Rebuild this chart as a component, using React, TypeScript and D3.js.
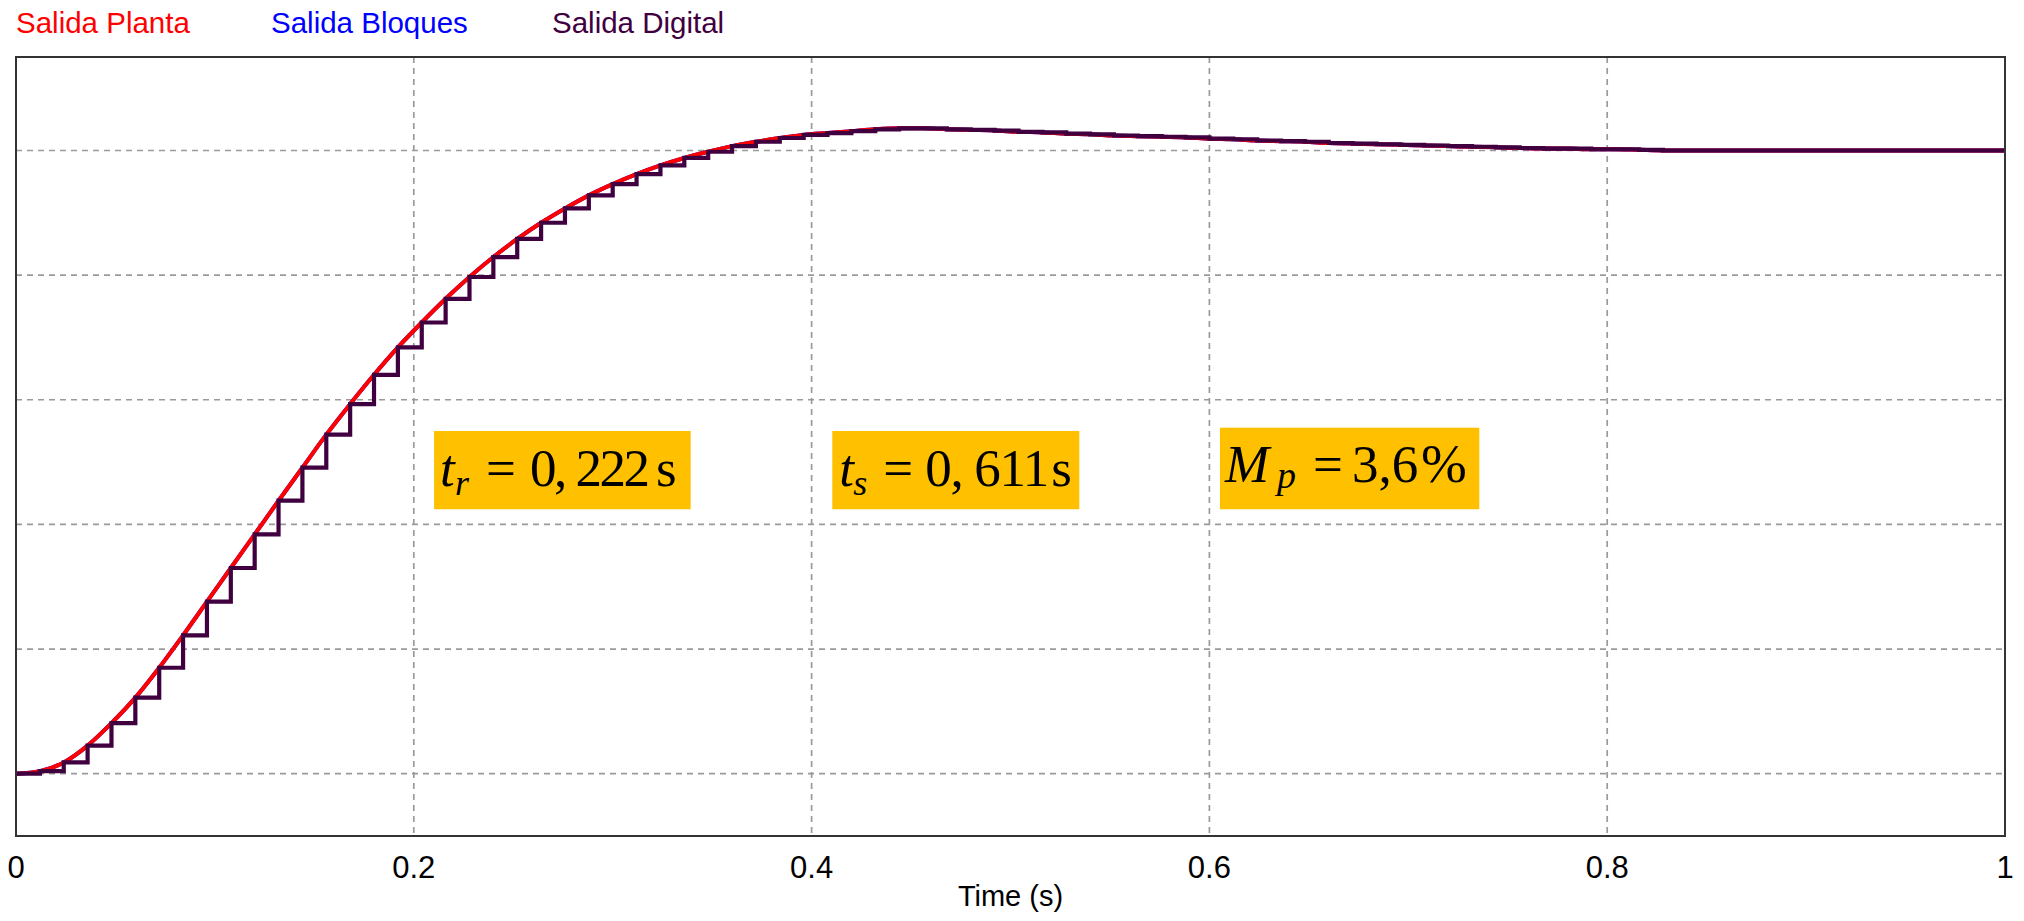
import React from 'react';
import * as d3 from 'd3';

// ---- data ----
const SAMPLE_PERIOD = 0.012; // s, digital sampling period
// Plant output at each sampling instant k*T (k = 0..83)
const plantOutput = [
  0.000, 0.004, 0.018, 0.045, 0.081, 0.122, 0.170, 0.222, 0.276, 0.330,
  0.384, 0.438, 0.491, 0.544, 0.593, 0.640, 0.684, 0.724, 0.762, 0.797,
  0.829, 0.858, 0.884, 0.907, 0.928, 0.946, 0.962, 0.976, 0.988, 0.998,
  1.007, 1.014, 1.020, 1.025, 1.028, 1.031, 1.034, 1.0355, 1.0355, 1.034,
  1.033, 1.032, 1.030, 1.029, 1.027, 1.026, 1.024, 1.023, 1.022, 1.021,
  1.019, 1.018, 1.016, 1.015, 1.014, 1.012, 1.011, 1.010, 1.009, 1.008,
  1.007, 1.006, 1.005, 1.004, 1.003, 1.003, 1.002, 1.002, 1.001, 1.000,
  1.000, 1.000, 1.000, 1.000, 1.000, 1.000, 1.000, 1.000, 1.000, 1.000,
  1.000, 1.000, 1.000, 1.000,
];
// Block-diagram output coincides with the plant output
const blockOutput = plantOutput;
// Digital (sampled, zero-order hold) output
const digitalOutput = plantOutput;

const xTicks = [0, 0.2, 0.4, 0.6, 0.8, 1];
const xTickLabels = ['0', '0.2', '0.4', '0.6', '0.8', '1'];
const yGrid = [0, 0.2, 0.4, 0.6, 0.8, 1.0];
const legendLabels = ['Salida Planta', 'Salida Bloques', 'Salida Digital'];
const xLabel = 'Time (s)';

// ---- layout ----
const W = 2024;
const H = 921;
const PLOT = { left: 16, right: 2005, top: 57, bottom: 836 };
const COLORS = { planta: '#ff0000', bloques: '#0000ff', digital: '#400040' };
const SANS = "'Liberation Sans', Arial, sans-serif";
const SERIF = "'Liberation Serif', 'Times New Roman', serif";

export default function App() {
  const x = d3.scaleLinear().domain([0, 1]).range([PLOT.left, PLOT.right]);
  const y = d3.scaleLinear().domain([-0.1, 1.15]).range([PLOT.bottom, PLOT.top]);

  const pts = (vals: number[]) => {
    const p: [number, number][] = vals.map((v, k) => [k * SAMPLE_PERIOD, v]);
    p.push([1, vals[vals.length - 1]]);
    return p;
  };

  const smooth = d3
    .line<[number, number]>()
    .x((d) => x(d[0]))
    .y((d) => y(d[1]))
    .curve(d3.curveMonotoneX);
  const steps = d3
    .line<[number, number]>()
    .x((d) => x(d[0]))
    .y((d) => y(d[1]))
    .curve(d3.curveStepAfter);

  const legendX = [16, 271, 552];
  const legendColors = [COLORS.planta, COLORS.bloques, COLORS.digital];

  // annotation boxes in data coordinates
  const boxes = [
    { t0: 0.2102, t1: 0.3392, v0: 0.5499, v1: 0.4243 },
    { t0: 0.4104, t1: 0.5346, v0: 0.5499, v1: 0.4243 },
    { t0: 0.6053, t1: 0.7357, v0: 0.5552, v1: 0.4243 },
  ];
  const bx = (i: number) => x(boxes[i].t0);

  return (
    <svg
      width={W}
      height={H}
      style={{ position: 'absolute', left: 0, top: 0, background: '#fff' }}
    >
      <rect x={0} y={0} width={W} height={H} fill="#fff" />
      {/* legend */}
      {legendLabels.map((l, i) => (
        <text
          key={l}
          x={legendX[i]}
          y={33}
          fontFamily={SANS}
          fontSize={29.5}
          fill={legendColors[i]}
        >
          {l}
        </text>
      ))}

      {/* grid */}
      {yGrid.map((v) => (
        <line
          key={'gy' + v}
          x1={PLOT.left}
          x2={PLOT.right}
          y1={y(v)}
          y2={y(v)}
          stroke="#9a9a9a"
          strokeWidth={1.7}
          strokeDasharray="6,5"
        />
      ))}
      {xTicks.slice(1, -1).map((t) => (
        <line
          key={'gx' + t}
          x1={x(t)}
          x2={x(t)}
          y1={PLOT.top}
          y2={PLOT.bottom}
          stroke="#9a9a9a"
          strokeWidth={1.7}
          strokeDasharray="6,5"
        />
      ))}

      {/* series */}
      <path d={smooth(pts(blockOutput)) || ''} fill="none" stroke={COLORS.bloques} strokeWidth={4} />
      <path d={smooth(pts(plantOutput)) || ''} fill="none" stroke={COLORS.planta} strokeWidth={4} />
      <path
        d={steps(pts(digitalOutput)) || ''}
        fill="none"
        stroke={COLORS.digital}
        strokeWidth={4.2}
        strokeLinejoin="miter"
      />

      {/* frame */}
      <rect
        x={PLOT.left}
        y={PLOT.top}
        width={PLOT.right - PLOT.left}
        height={PLOT.bottom - PLOT.top}
        fill="none"
        stroke="#333"
        strokeWidth={2}
      />

      {/* x tick labels */}
      {xTicks.map((t, i) => (
        <text
          key={'xt' + t}
          x={x(t)}
          y={878}
          textAnchor="middle"
          fontFamily={SANS}
          fontSize={31}
          fill="#000"
        >
          {xTickLabels[i]}
        </text>
      ))}
      <text
        x={(PLOT.left + PLOT.right) / 2}
        y={906}
        textAnchor="middle"
        fontFamily={SANS}
        fontSize={29}
        fill="#000"
      >
        {xLabel}
      </text>

      {/* annotation boxes */}
      {boxes.map((b, i) => (
        <rect
          key={'box' + i}
          x={x(b.t0)}
          y={y(b.v0)}
          width={x(b.t1) - x(b.t0)}
          height={y(b.v1) - y(b.v0)}
          fill="#ffc000"
        />
      ))}

      {/* t_r = 0,222 s ; t_s = 0,611 s ; M_p = 3,6 % */}
      <g fontFamily={SERIF} fill="#000">
        <text x={bx(0) + 6} y={486} fontSize={53} fontStyle="italic">t</text>
        <text x={bx(0) + 21} y={495} fontSize={36} fontStyle="italic">r</text>
        <text x={bx(0) + 52} y={486} fontSize={53}>=</text>
        <text x={bx(0) + 96} y={486} fontSize={53} textLength={120} lengthAdjust="spacing">0, 222</text>
        <text x={bx(0) + 222} y={486} fontSize={53}>s</text>

        <text x={bx(1) + 7} y={486} fontSize={53} fontStyle="italic">t</text>
        <text x={bx(1) + 21} y={495} fontSize={36} fontStyle="italic">s</text>
        <text x={bx(1) + 51} y={486} fontSize={53}>=</text>
        <text x={bx(1) + 93} y={486} fontSize={53} textLength={124} lengthAdjust="spacing">0, 611</text>
        <text x={bx(1) + 219} y={486} fontSize={53}>s</text>

        <text x={bx(2) + 5} y={482} fontSize={53} fontStyle="italic">M</text>
        <text x={bx(2) + 57} y={488} fontSize={38} fontStyle="italic">p</text>
        <text x={bx(2) + 93} y={482} fontSize={53}>=</text>
        <text x={bx(2) + 132} y={482} fontSize={53}>3,6</text>
        <text x={bx(2) + 201} y={482} fontSize={55}>%</text>
      </g>
    </svg>
  );
}
